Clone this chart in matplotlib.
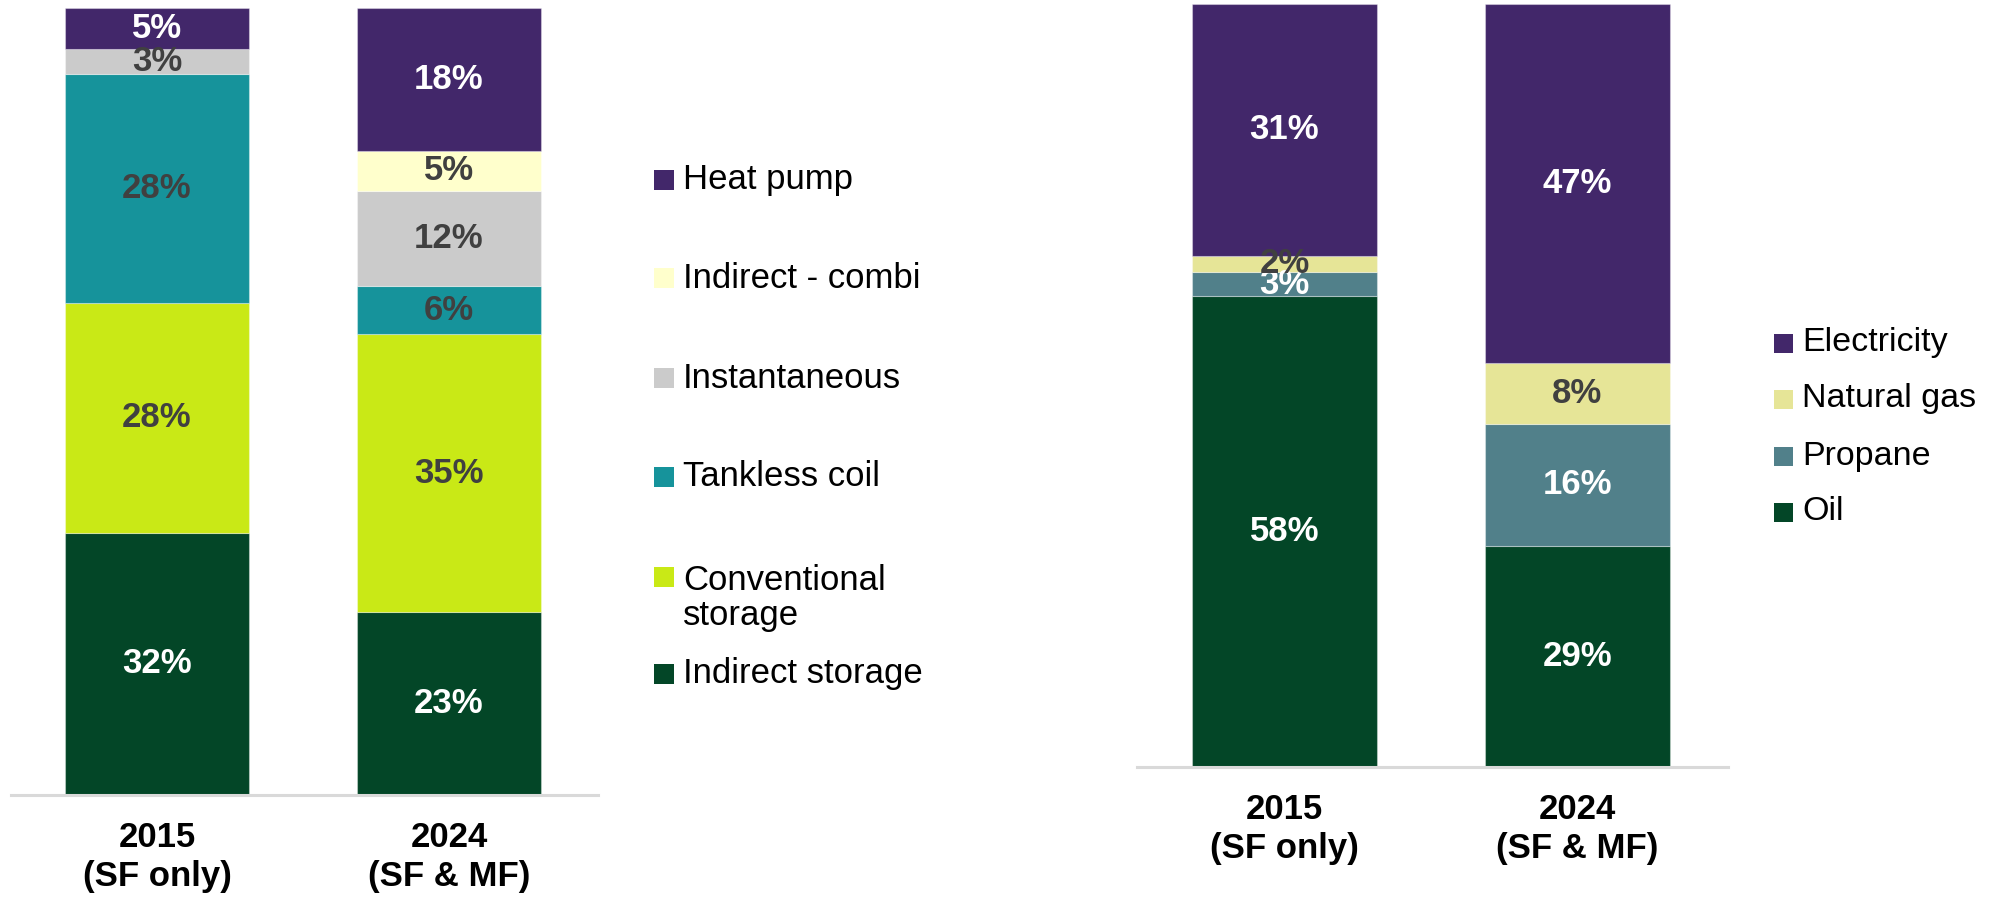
"""Two 100% stacked columns: water heater type and fuel, 2015 vs 2024."""
import matplotlib
matplotlib.use('Agg')
import matplotlib.pyplot as plt
from matplotlib.patches import Rectangle
import numpy as np

plt.rcParams['font.family'] = ['Liberation Sans', 'DejaVu Sans']

W, H = 2000, 898

CATEGORIES = ['2015\n(SF only)', '2024\n(SF & MF)']

# left panel: system type, bottom to top
TYPE_NAMES = ['Indirect storage', 'Conventional\nstorage', 'Tankless coil',
              'Instantaneous', 'Indirect - combi', 'Heat pump']
INDIRECT_STORAGE = [32, 23]
CONVENTIONAL = [28, 35]
TANKLESS = [28, 6]
INSTANTANEOUS = [3, 12]
COMBI = [0, 5]
HEAT_PUMP = [5, 18]
TYPE_COLORS = ['#034627', '#C9E916', '#16939B', '#CBCBCB', '#FFFFCC', '#42276A']
TYPE_TEXT = ['white', '#404040', '#404040', '#404040', '#404040', 'white']

# right panel: fuel, bottom to top
FUEL_NAMES = ['Oil', 'Propane', 'Natural gas', 'Electricity']
OIL = [58, 29]
PROPANE = [3, 16]
NATURAL_GAS = [2, 8]
ELECTRICITY = [31, 47]
FUEL_COLORS = ['#034627', '#51808A', '#E6E597', '#42276A']
FUEL_TEXT = ['white', 'white', '#404040', 'white']


def stacked(ax, series, colors, text_colors):
    vals = np.array(series, dtype=float)
    shares = vals / vals.sum(axis=0) * 100  # 100% stacked, labels keep rounded values
    x = np.arange(len(CATEGORIES))
    bottom = np.zeros(len(CATEGORIES))
    for raw, sh, c, tc in zip(vals, shares, colors, text_colors):
        ax.bar(x, sh, 0.63, bottom=bottom, color=c,
               edgecolor=(1, 1, 1, 0.35), linewidth=0.8, zorder=2)
        for xi, r, s, b in zip(x, raw, sh, bottom):
            if r > 0:
                ax.text(xi, b + s / 2, f'{int(r)}%', ha='center', va='center',
                        fontsize=25, fontweight='bold', color=tc, zorder=3)
        bottom += sh
    ax.set_ylim(0, 100)
    ax.set_xticks(x)
    ax.set_xticklabels(CATEGORIES, fontsize=25, fontweight='bold', linespacing=1.22)
    ax.tick_params(axis='x', length=0, pad=19)
    ax.set_yticks([])
    for s in ['top', 'right', 'left']:
        ax.spines[s].set_visible(False)
    ax.spines['bottom'].set_color('#D9D9D9')
    ax.spines['bottom'].set_linewidth(2.2)


def fig_box(x0, y0, x1, y1):
    # pixel box (top-left origin) -> figure fraction [left, bottom, width, height]
    return [x0 / W, 1 - y1 / H, (x1 - x0) / W, (y1 - y0) / H]


def legend_entry(fig, x, y, text, color, size=20, text_y=None, fontsize=24.5):
    fig.add_artist(Rectangle((x / W, (H - y - size / 2) / H), size / W, size / H,
                             transform=fig.transFigure, facecolor=color, edgecolor='none'))
    ty = y if text_y is None else text_y
    fig.text((x + size + 9) / W, 1 - ty / H, text, ha='left', va='center',
             fontsize=fontsize, color='black', linespacing=1.05)


fig = plt.figure(figsize=(W / 100, H / 100), dpi=100)

ax1 = fig.add_axes(fig_box(11, 8, 598, 795))
ax1.set_xlim(-0.5, 1.51)
stacked(ax1, [INDIRECT_STORAGE, CONVENTIONAL, TANKLESS, INSTANTANEOUS, COMBI, HEAT_PUMP],
        TYPE_COLORS, TYPE_TEXT)

ax2 = fig.add_axes(fig_box(1137, 4, 1728, 767))
ax2.set_xlim(-0.503, 1.514)
stacked(ax2, [OIL, PROPANE, NATURAL_GAS, ELECTRICITY], FUEL_COLORS, FUEL_TEXT)

# legends, top entry first like the reference
left_y = {'Heat pump': 180, 'Indirect - combi': 278, 'Instantaneous': 378,
          'Tankless coil': 477, 'Conventional\nstorage': 577, 'Indirect storage': 674}
for name, color in zip(TYPE_NAMES[::-1], TYPE_COLORS[::-1]):
    y = left_y[name]
    ty = y + 21 if '\n' in name else None
    legend_entry(fig, 654, y, name, color, text_y=ty, fontsize=25)

right_y = {'Electricity': 343, 'Natural gas': 399, 'Propane': 456, 'Oil': 512}
for name, color in zip(FUEL_NAMES[::-1], FUEL_COLORS[::-1]):
    legend_entry(fig, 1774, right_y[name], name, color, size=19)

plt.savefig('out.png', dpi=100, facecolor='white')
plt.close()
